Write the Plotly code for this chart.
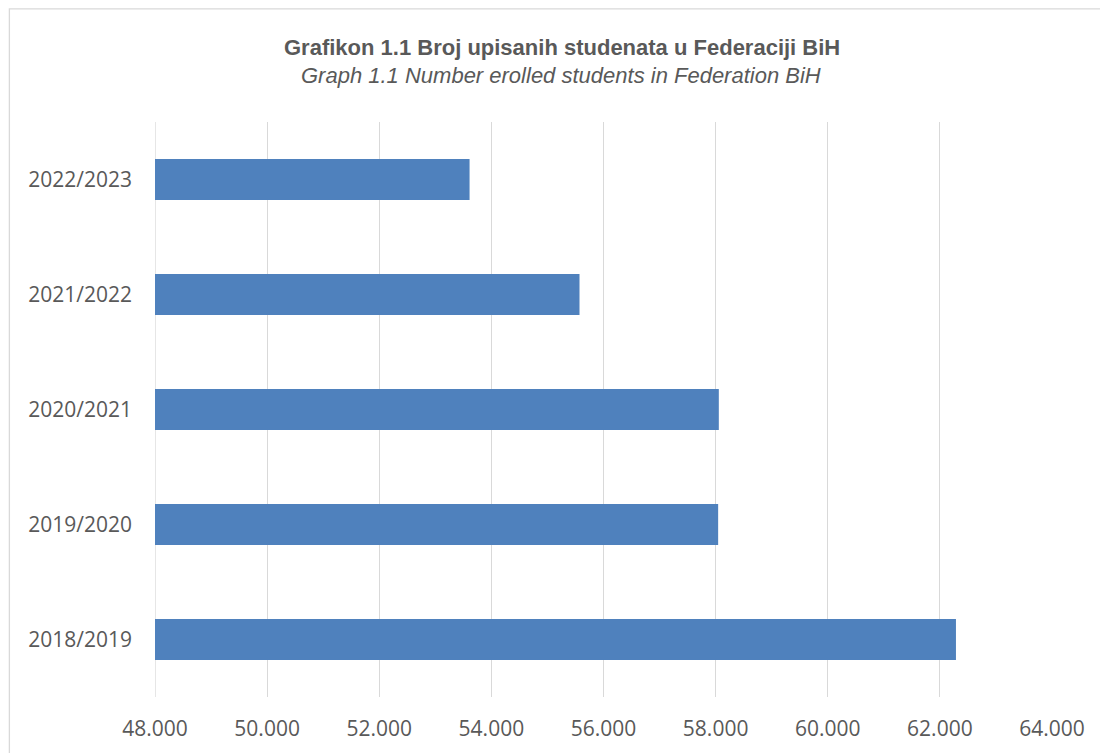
import plotly.graph_objects as go

categories = ["2018/2019", "2019/2020", "2020/2021", "2021/2022", "2022/2023"]
students = [62287, 58045, 58057, 55572, 53611]
x_ticks = [48000, 50000, 52000, 54000, 56000, 58000, 60000, 62000, 64000]

title_main = "Grafikon 1.1 Broj upisanih studenata u Federaciji BiH"
title_sub = "Graph 1.1 Number erolled students in Federation BiH"

W, H = 1108, 753
OFF = 8  # page offset of the figure
# plot area in page pixels
PL, PR, PT, PB = 154.5, 1052, 122, 697
L, T = PL - OFF, PT - OFF
R, B = W - (PR - OFF), H - (PB - OFF)
pw, ph = PR - PL, PB - PT

def px_to_paper_x(px):
    return (px - PL) / pw

def px_to_paper_y(py):
    return (PB - py) / ph

fig = go.Figure(go.Bar(
    x=students, y=categories, orientation="h",
    marker=dict(color="#4F81BD", line=dict(width=0)),
    width=0.357,
))

text_color = "#595959"
grid_color = "#D9D9D9"
fig.update_layout(
    width=W, height=H,
    margin=dict(l=L, r=R, t=T, b=B, pad=0),
    paper_bgcolor="white", plot_bgcolor="white",
    separators=",.",
    showlegend=False,
    xaxis=dict(
        range=[x_ticks[0], x_ticks[-1]], tickvals=x_ticks, tickformat=",d",
        showgrid=True, gridcolor=grid_color, gridwidth=1.3,
        zeroline=False, showline=False, ticks="",
        tickfont=dict(family="Open Sans, Lato, sans-serif", size=21, color=text_color),
        ticklabelstandoff=17,
        fixedrange=True,
    ),
    yaxis=dict(
        range=[-0.5, 4.5], showgrid=False, zeroline=False, showline=False, ticks="",
        tickfont=dict(family="Open Sans, Lato, sans-serif", size=21, color=text_color),
        ticklabelstandoff=22,
    ),
    shapes=[
        dict(
            type="rect", xref="paper", yref="paper",
            x0=px_to_paper_x(8.8), x1=px_to_paper_x(1125),
            y0=px_to_paper_y(775), y1=px_to_paper_y(8.8),
            line=dict(color=grid_color, width=1.3), fillcolor="rgba(0,0,0,0)", layer="below",
        ),
        dict(
            type="line", xref="x", yref="paper",
            x0=x_ticks[0], x1=x_ticks[0], y0=0, y1=1,
            line=dict(color=grid_color, width=1.3), layer="below",
        ),
    ],
    annotations=[
        dict(text="<b>" + title_main + "</b>", xref="paper", yref="paper",
             x=px_to_paper_x(562), y=px_to_paper_y(47), showarrow=False,
             xanchor="center", yanchor="middle",
             font=dict(family="Liberation Sans, Arial", size=22, color=text_color)),
        dict(text="<i>" + title_sub + "</i>", xref="paper", yref="paper",
             x=px_to_paper_x(561), y=px_to_paper_y(76), showarrow=False,
             xanchor="center", yanchor="middle",
             font=dict(family="Liberation Sans, Arial", size=22, color=text_color)),
    ],
)

fig.write_html("out.html")
